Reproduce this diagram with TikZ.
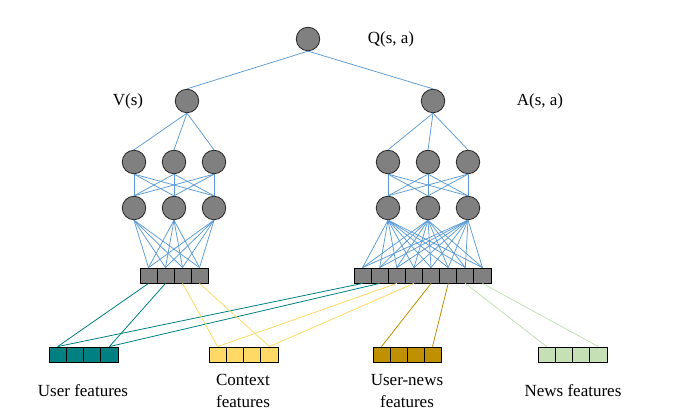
\documentclass[tikz,border=0pt]{standalone}
\usepackage{fontspec}
\setmainfont{Liberation Serif}
\definecolor{lineblue}{RGB}{91,155,213}
\definecolor{nodegray}{RGB}{128,128,128}
\definecolor{tealc}{RGB}{0,128,128}
\definecolor{yellowc}{RGB}{255,217,102}
\definecolor{goldc}{RGB}{191,144,0}
\definecolor{greenc}{RGB}{197,224,180}
\begin{document}
\begin{tikzpicture}[x=1pt,y=-1pt,
  neuron/.style={circle,draw=black!85,fill=nodegray,line width=0.8pt,minimum size=23.5pt,inner sep=0pt},
  cell/.style={rectangle,draw=black,line width=0.8pt,minimum width=17.1pt,minimum height=15pt,inner sep=0pt},
  bl/.style={draw=lineblue,line width=0.75pt},
  fl/.style={line width=0.8pt},
  lbl/.style={font=\fontsize{17}{22}\selectfont,inner sep=0pt,align=center}
]
\useasboundingbox (0,0) rectangle (678,419);

% neurons
\node[neuron] (Q) at (308,39) {};
\node[neuron] (V) at (187,101) {};
\node[neuron] (A) at (433,101) {};
\foreach \i/\x in {1/134,2/174,3/214} {
  \node[neuron] (la\i) at (\x,162) {};
  \node[neuron] (lb\i) at (\x,208) {};
}
\foreach \i/\x in {1/388,2/428,3/468} {
  \node[neuron] (ra\i) at (\x,162) {};
  \node[neuron] (rb\i) at (\x,208) {};
}

% bars
\foreach \i in {1,...,4} \node[cell,fill=nodegray] (L\i) at ({140+17*(\i-0.5)},275.5) {};
\foreach \i in {1,...,8} \node[cell,fill=nodegray] (R\i) at ({354+17.125*(\i-0.5)},275.5) {};
\foreach \i in {1,...,4} \node[cell,fill=tealc] (U\i) at ({49+17.25*(\i-0.5)},354.5) {};
\foreach \i in {1,...,4} \node[cell,fill=yellowc] (C\i) at ({209+17.25*(\i-0.5)},354.5) {};
\foreach \i in {1,...,4} \node[cell,fill=goldc] (N\i) at ({373+17*(\i-0.5)},354.5) {};
\foreach \i in {1,...,4} \node[cell,fill=greenc] (W\i) at ({538+17.25*(\i-0.5)},354.5) {};

% labels
\node[lbl] (tQ) at (391,39) {Q(s, a)};
\node[lbl] (tV) at (128,101) {V(s)};
\node[lbl] (tA) at (540,101) {A(s, a)};
\node[lbl] (tU) at (83,391) {User features};
\node[lbl] (tC) at (243,391) {Context\\features};
\node[lbl] (tN) at (407,391) {User-news\\features};
\node[lbl] (tW) at (573,391) {News features};

% blue connections
\draw[bl] (Q.south) -- (V.north);
\draw[bl] (Q.south) -- (A.north);
\foreach \i in {1,2,3} {
  \draw[bl] (V.south) -- (la\i.north);
  \draw[bl] (A.south) -- (ra\i.north);
  \foreach \j in {1,2,3} {
    \draw[bl] (la\i.south) -- (lb\j.north);
    \draw[bl] (ra\i.south) -- (rb\j.north);
  }
  \foreach \k in {1,...,4} \draw[bl] (lb\i.south) -- (L\k.north);
  \foreach \k in {1,...,8} \draw[bl] (rb\i.south) -- (R\k.north);
}

% feature connections
\draw[fl,tealc] (L1.south) -- (U1.north);
\draw[fl,tealc] (L2.south) -- (U4.north);
\draw[fl,tealc] (R1.south) -- (U1.north);
\draw[fl,tealc] (R2.south) -- (U4.north);
\draw[fl,yellowc] (L3.south) -- (C1.north);
\draw[fl,yellowc] (L4.south) -- (C4.north);
\draw[fl,yellowc] (R3.south) -- (C1.north);
\draw[fl,yellowc] (R4.south) -- (C4.north);
\draw[fl,goldc] (R5.south) -- (N1.north);
\draw[fl,goldc] (R6.south) -- (N4.north);
\draw[fl,greenc] (R7.south) -- (W1.north);
\draw[fl,greenc] (R8.south) -- (W4.north);
\end{tikzpicture}
\end{document}
